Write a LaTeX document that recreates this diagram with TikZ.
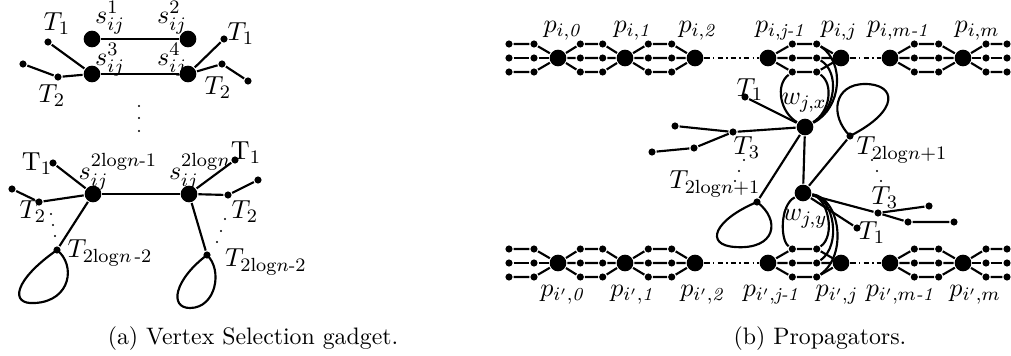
\documentclass[tikz,border=0pt]{standalone}
\usepackage{amsmath}
\usetikzlibrary{calc}
\tikzset{
  bigdot/.style={circle, fill, inner sep=0pt, minimum size=7pt},
  smalldot/.style={circle, fill, inner sep=0pt, minimum size=3pt},
  lbl/.style={inner sep=0pt, font=\fontsize{11}{13}\selectfont},
  chainjump/.style={line width=0.6pt, dash pattern=on 2.4pt off 1.3pt on 0.5pt off 1.3pt}
}

\begin{document}
\begin{tikzpicture}[x=0.42pt, y=-0.42pt, line width=0.9pt]
\useasboundingbox (0,0) rectangle (1011,356);
% (a) vertex selection gadget
\node[bigdot] (s1) at (92,39) {}; \node[bigdot] (s2) at (188,39) {}; \draw (s1)--(s2);
\node[bigdot] (s3) at (92,74) {}; \node[bigdot] (s4) at (188,74) {}; \draw (s3)--(s4);
\node[bigdot] (s5) at (93,194) {}; \node[bigdot] (s6) at (189,194) {}; \draw (s5)--(s6);
\node[lbl] (ls1) at (110,18) {$s_{ij}^{1}$}; \node[lbl] (ls2) at (172,18) {$s_{ij}^{2}$};
\node[lbl] (ls3) at (110,60) {$s_{ij}^{3}$}; \node[lbl] (ls4) at (172,60) {$s_{ij}^{4}$};
\node[lbl] (ls5) at (118,172) {$s_{ij}^{2\mathrm{log}n\text{-}1}$}; \node[lbl] (ls6) at (200,172) {$s_{ij}^{2\mathrm{log}n}$};
\node[smalldot] (a1) at (48,42) {}; \node[smalldot] (a2) at (58,77) {}; \node[smalldot] (a3) at (23,64) {};
\draw (s3)--(a1); \draw (s3)--(a2)--(a3);
\node[smalldot] (a4) at (224,39) {}; \node[smalldot] (a5) at (222,64) {}; \node[smalldot] (a6) at (248,81) {};
\draw (s4)--(a4); \draw (s4)--(a5)--(a6);
\node[smalldot] (a7) at (53,163) {}; \node[smalldot] (a8) at (39,202) {}; \node[smalldot] (a9) at (12,189) {}; \node[smalldot] (a10) at (57,250) {};
\draw (s5)--(a7); \draw (s5)--(a8)--(a9); \draw (s5)--(a10);
\draw (a10.center) .. controls (76,265) and (71,301) .. (35,303) .. controls (9,305) and (14,280) .. (a10.center);
\node[smalldot] (a11) at (235,160) {}; \node[smalldot] (a12) at (228,195) {}; \node[smalldot] (a13) at (258,180) {}; \node[smalldot] (a14) at (207,255) {};
\draw (s6)--(a11); \draw (s6)--(a12)--(a13); \draw (s6)--(a14);
\draw (a14.center) .. controls (223,270) and (216,308) .. (190,308) .. controls (169,308) and (174,280) .. (a14.center);
\node[lbl] (lt1a) at (57,24) {$T_1$}; \node[lbl] (lt2a) at (52,96) {$T_2$};
\node[lbl] (lt1b) at (241,34) {$T_1$}; \node[lbl] (lt2b) at (218,88) {$T_2$};
\node[lbl] (lt1c) at (37,164) {$\mathrm{T}_1$}; \node[lbl] (lt2c) at (33,212) {$T_2$};
\node[lbl] (lt1d) at (246,153) {$\mathrm{T}_1$}; \node[lbl] (lt2d) at (245,212) {$T_2$};
\node[lbl] (ltla) at (110,253) {$T_{2\mathrm{log}n\,\text{-}2}$}; \node[lbl] (ltlb) at (266,262) {$T_{2\mathrm{log}n\text{-}2}$};
\foreach \p in {(139,106),(139,118),(139,131),(51,214),(53,225),(55,236),(225,219),(221,231),(217,242)} \fill \p circle (0.5pt);
\node (capa) at (253,339) {(a) Vertex Selection gadget.};
% (b) propagators
\foreach \p/\y in {pt/58, pb/263} {
  \node[bigdot] (\p0) at (558,\y) {}; \node[bigdot] (\p1) at (625,\y) {}; \node[bigdot] (\p2) at (695,\y) {};
  \node[bigdot] (\p j1) at (768,\y) {}; \node[bigdot] (\p j) at (841,\y) {};
  \node[bigdot] (\p m1) at (890,\y) {}; \node[bigdot] (\p m) at (963,\y) {};
  \draw[chainjump] (\p2)--(\p j1); \draw[chainjump] (\p j)--(\p m1);
  \foreach \r/\dy in {1/-14, 2/0, 3/14} {
    \foreach \a/\b in {\p0/\p1, \p1/\p2, \p j1/\p j, \p m1/\p m} {
      \path ($(\a)!0.333!(\b)$) ++(0,\dy) node[smalldot] (\a-1-\r) {};
      \path ($(\a)!0.667!(\b)$) ++(0,\dy) node[smalldot] (\a-2-\r) {};
      \draw (\a)--(\a-1-\r)--(\a-2-\r)--(\b);
    }
    \path (\p0) ++(-49,\dy) node[smalldot] (\p0-l1-\r) {} ++(25,0) node[smalldot] (\p0-l2-\r) {};
    \draw (\p0-l1-\r)--(\p0-l2-\r)--(\p0);
    \path (\p m) ++(23,\dy) node[smalldot] (\p m-r1-\r) {} ++(21,0) node[smalldot] (\p m-r2-\r) {};
    \draw (\p m)--(\p m-r1-\r)--(\p m-r2-\r);
  }
}
\node[lbl] (lpt0) at (562,31) {$p_{i,\textit{0}}$}; \node[lbl] (lpt1) at (632,31) {$p_{i,\textit{1}}$}; \node[lbl] (lpt2) at (697,31) {$p_{i,\textit{2}}$};
\node[lbl] (lptj1) at (780,31) {$p_{i,\textit{j-1}}$}; \node[lbl] (lptj) at (839,31) {$p_{i,j}$};
\node[lbl] (lptm1) at (898,31) {$p_{i,m\textit{-1}}$}; \node[lbl] (lptm) at (977,31) {$p_{i,m}$};
\node[lbl] (lpb0) at (562,295) {$p_{i',\textit{0}}$}; \node[lbl] (lpb1) at (632,295) {$p_{i',\textit{1}}$}; \node[lbl] (lpb2) at (702,295) {$p_{i',\textit{2}}$};
\node[lbl] (lpbj1) at (771,295) {$p_{i',\textit{j-1}}$}; \node[lbl] (lpbj) at (837,295) {$p_{i',j}$};
\node[lbl] (lpbm1) at (900,295) {$p_{i',m\textit{-1}}$}; \node[lbl] (lpbm) at (975,295) {$p_{i',m}$};
\node[bigdot] (wx) at (805,127) {}; \node[bigdot] (wy) at (803,193) {}; \draw (wx)--(wy);
\node[lbl] (lwx) at (804,103) {$w_{j,x}$}; \node[lbl] (lwy) at (805,219) {$w_{j,y}$};
\draw (ptj1-1-3) .. controls (775,85) and (780,112) .. (wx);
\draw (ptj1-2-1) .. controls (845,62) and (842,108) .. (wx);
\draw (ptj1-2-2) .. controls (840,72) and (836,110) .. (wx);
\draw (ptj1-2-3) .. controls (834,84) and (830,112) .. (wx);
\draw (wy) .. controls (780,205) and (780,240) .. (pbj1-1-1);
\draw (wy) .. controls (828,198) and (836,236) .. (pbj1-2-1);
\draw (wy) .. controls (834,198) and (842,245) .. (pbj1-2-2);
\draw (wy) .. controls (840,198) and (848,255) .. (pbj1-2-3);
\node[smalldot] (t1x) at (745,97) {}; \draw (wx)--(t1x);
\node[smalldot] (t3x) at (733,132) {}; \node[smalldot] (t3xa) at (675,126) {}; \node[smalldot] (t3xb) at (694,148) {}; \node[smalldot] (t3xc) at (652,152) {};
\draw (wx)--(t3x)--(t3xa); \draw (t3x)--(t3xb)--(t3xc);
\node[smalldot] (tlx) at (757,202) {}; \draw (wx)--(tlx);
\draw (tlx.center) .. controls (781,220) and (776,250) .. (735,247) .. controls (704,245) and (714,220) .. (tlx.center);
\node[smalldot] (tly) at (850,136) {}; \draw (wy)--(tly);
\draw (tly.center) .. controls (829,115) and (834,84) .. (865,84) .. controls (896,84) and (901,110) .. (tly.center);
\node[smalldot] (t3y) at (878,213) {}; \node[smalldot] (t3ya) at (929,206) {}; \node[smalldot] (t3yb) at (908,222) {}; \node[smalldot] (t3yc) at (954,222) {};
\draw (wy)--(t3y)--(t3ya); \draw (t3y)--(t3yb)--(t3yc);
\node[smalldot] (t1y) at (857,228) {}; \draw (wy)--(t1y);
\node[lbl] (lt1x) at (750,90) {$T_1$}; \node[lbl] (lt3x) at (747,148) {$T_3$}; \node[lbl] (ltlx) at (715,184) {$T_{2\mathrm{log}n+1}$};
\node[lbl] (ltly) at (902,150) {$T_{2\mathrm{log}n+1}$}; \node[lbl] (lt3y) at (885,198) {$T_3$}; \node[lbl] (lt1y) at (872,233) {$T_1$};
\foreach \p in {(744,160),(739,171),(735,181),(872,160),(877,171),(881,181)} \fill \p circle (0.5pt);
\node (capb) at (820,339) {(b) Propagators.};
\end{tikzpicture}
\end{document}
